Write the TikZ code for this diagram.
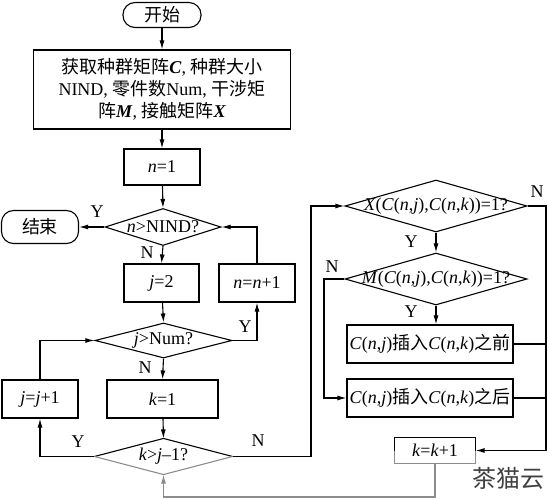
\documentclass[tikz,border=0pt]{standalone}
\usepackage{fontspec}
\setmainfont{Liberation Serif}
\newfontfamily\cjk{Noto Sans CJK SC}
\newcommand{\zh}[1]{{\cjk #1}}
\newcommand{\bi}[1]{\textbf{\textit{#1}}}
\usetikzlibrary{arrows.meta,shapes.geometric}
\begin{document}
\begin{tikzpicture}[x=1pt,y=-1pt,
  font=\fontsize{18}{22}\selectfont,
  line width=1.1pt,
  box/.style={draw,inner sep=0pt,align=center},
  term/.style={draw,inner sep=0pt,rounded corners=12pt},
  dia/.style={diamond,draw,inner sep=0pt},
  arr/.style={-{Latex[length=9pt,width=5pt]}},
  lab/.style={inner sep=0pt},
  faint/.style={draw=black!45}]
\useasboundingbox (0,0) rectangle (547,500);
% nodes
\node[term,minimum width=78pt,minimum height=25pt] (start) at (162,15) {\zh{开始}};
\node[box,minimum width=257pt,minimum height=79pt] (init) at (162,89.5)
  {\zh{获取种群矩阵}\bi{C}, \zh{种群大小}\\NIND, \zh{零件数}Num, \zh{干涉矩}\\\zh{阵}\bi{M}, \zh{接触矩阵}\bi{X}};
\node[box,minimum width=76pt,minimum height=36pt] (n1) at (162,167) {\textit{n}=1};
\node[dia,minimum width=116pt,minimum height=37pt,label={center:\textit{n}>NIND?}] (nd) at (163,227) {};
\node[term,minimum width=77pt,minimum height=33pt] (end) at (40,227) {\zh{结束}};
\node[box,minimum width=75pt,minimum height=38pt] (j2) at (161.5,283) {\textit{j}=2};
\node[box,minimum width=76pt,minimum height=38pt] (nn1) at (257,283) {\textit{n}=\textit{n}+1};
\node[dia,minimum width=137pt,minimum height=35pt,label={center:\textit{j}>Num?}] (jd) at (163.5,340.5) {};
\node[box,minimum width=76pt,minimum height=38pt] (jj1) at (40,399) {\textit{j}=\textit{j}+1};
\node[box,minimum width=111pt,minimum height=38pt] (k1) at (162.5,399) {\textit{k}=1};
\node[diamond,inner sep=0pt,minimum width=137pt,minimum height=35pt,label={center:\textit{k}>\textit{j}–1?}] (kd) at (163.5,456.5) {};
\node[dia,minimum width=182pt,minimum height=52pt,label={center:\textit{X}(\textit{C}(\textit{n},\textit{j}),\textit{C}(\textit{n},\textit{k}))=1?}] (xd) at (436,206) {};
\node[dia,minimum width=182pt,minimum height=52pt,label={center:\textit{M}(\textit{C}(\textit{n},\textit{j}),\textit{C}(\textit{n},\textit{k}))=1?}] (md) at (436,279) {};
\node[box,minimum width=166pt,minimum height=38pt] (before) at (430,344) {\textit{C}(\textit{n},\textit{j})\zh{插入}\textit{C}(\textit{n},\textit{k})\zh{之前}};
\node[box,minimum width=166pt,minimum height=38pt] (after) at (430,398) {\textit{C}(\textit{n},\textit{j})\zh{插入}\textit{C}(\textit{n},\textit{k})\zh{之后}};
\node[inner sep=0pt,minimum width=80pt,minimum height=25pt] (kk1) at (435,450.5) {\textit{k}=\textit{k}+1};
% partly grey outlines
\draw (kd.west) -- (kd.north) -- (kd.east);
\draw[faint] (kd.west) -- (kd.south) -- (kd.east);
\draw (kk1.west) -- (kk1.north west) -- (kk1.north east) -- (kk1.east);
\draw[faint] (kk1.west) -- (kk1.south west) -- (kk1.south east) -- (kk1.east);
% turning points
\coordinate (rx) at (311,0);
\coordinate (fr) at (546,0);
\coordinate (ml) at (324,0);
\coordinate (bt) at (0,497);
% connectors
\draw[arr] (start) -- (init);
\draw[arr] (init) -- (n1);
\draw[arr] (n1) -- (nd.north);
\draw[arr] (nd.west) -- (end.east);
\draw[arr] (nd.south) -- (j2.north);
\draw[arr] (j2) -- (jd.north);
\draw[arr] (jd.east) -| (nn1.south);
\draw[arr] (nn1.north) |- (nd.east);
\draw[arr] (jd.south) -- (k1.north);
\draw[arr] (k1) -- (kd.north);
\draw[arr] (kd.west) -| (jj1.south);
\draw[arr] (jj1.north) |- (jd.west);
\draw[arr] (kd.east) -- (kd.east -| rx) |- (xd.west);
\draw[arr] (xd.east) -- (xd.east -| fr) |- (kk1.east);
\draw[arr] (xd.south) -- (md.north);
\draw[arr] (md.west) -- (md.west -| ml) |- (after.west);
\draw[arr] (md.south) -- (md.south |- before.north);
\draw (before.east) -- (before.east -| fr);
\draw (after.east) -- (after.east -| fr);
\draw[faint,arr] (kk1.south) -- (kk1.south |- bt) -| (kd.south);
% branch labels
\node[lab] (y1) at (97,212) {Y};
\node[lab] (n1l) at (147,253) {N};
\node[lab] (y2) at (245,327) {Y};
\node[lab] (n2l) at (145,368) {N};
\node[lab] (y3) at (78,442) {Y};
\node[lab] (n3l) at (258,441) {N};
\node[lab] (n4l) at (537,192) {N};
\node[lab] (y4) at (411,242) {Y};
\node[lab] (n5l) at (332,267) {N};
\node[lab] (y5) at (411,312) {Y};
% watermark
\node[lab,text=black!75,font=\cjk\fontsize{24}{24}\selectfont] (wm) at (508,478) {茶猫云};
\end{tikzpicture}
\end{document}
